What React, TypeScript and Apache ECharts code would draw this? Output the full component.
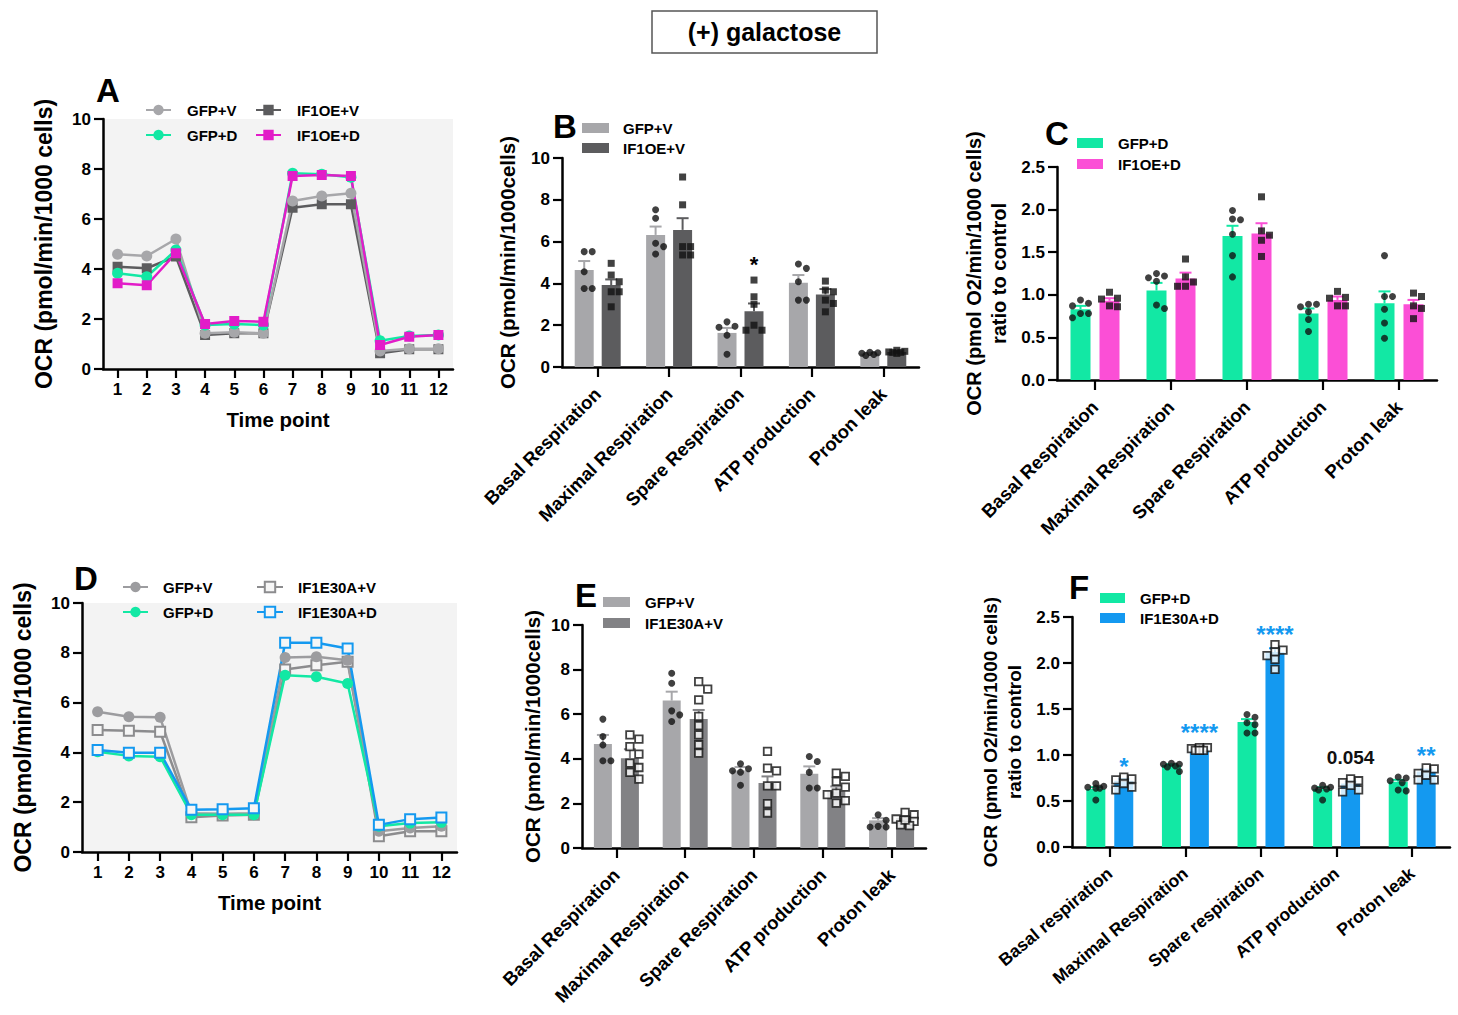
import React, { useEffect, useRef } from 'react';
import * as echarts from 'echarts';

const FONT = '"Liberation Sans", Arial, Helvetica, sans-serif';

// ---------- Data ----------
const timePoints = ['1', '2', '3', '4', '5', '6', '7', '8', '9', '10', '11', '12'];

// Panel A
const aGFPV = [4.59, 4.52, 5.2, 1.43, 1.47, 1.43, 6.72, 6.92, 7.03, 0.72, 0.81, 0.81];
const aIF1OEV = [4.09, 4.03, 4.5, 1.36, 1.43, 1.43, 6.45, 6.59, 6.59, 0.63, 0.79, 0.79];
const aGFPD = [3.83, 3.69, 4.76, 1.76, 1.8, 1.76, 7.83, 7.79, 7.67, 1.13, 1.32, 1.36];
const aIF1OED = [3.43, 3.35, 4.63, 1.8, 1.92, 1.89, 7.72, 7.76, 7.72, 0.96, 1.29, 1.36];

// Panel D
const dGFPV = [5.63, 5.43, 5.41, 1.56, 1.54, 1.56, 7.81, 7.84, 7.7, 0.83, 0.96, 1.03];
const dE30AV = [4.9, 4.87, 4.83, 1.4, 1.47, 1.5, 7.33, 7.5, 7.64, 0.63, 0.83, 0.83];
const dGFPD = [4.03, 3.86, 3.83, 1.5, 1.5, 1.5, 7.1, 7.04, 6.77, 1.03, 1.16, 1.19];
const dE30AD = [4.1, 3.99, 3.99, 1.7, 1.72, 1.76, 8.4, 8.4, 8.17, 1.09, 1.32, 1.39];

const catsBCE = ['Basal Respiration', 'Maximal Respiration', 'Spare Respiration', 'ATP production', 'Proton leak'];
const catsF = ['Basal respiration', 'Maximal Respiration', 'Spare respiration', 'ATP production', 'Proton leak'];

// Panel B
const bGFPV = [4.64, 6.32, 1.63, 4.03, 0.64];
const bGFPVsem = [0.43, 0.4, 0.24, 0.37, 0.04];
const bIF1OEV = [3.92, 6.56, 2.67, 3.47, 0.72];
const bIF1OEVsem = [0.27, 0.56, 0.37, 0.26, 0.03];
const bGFPVdots = [
  [5.52, 5.52, 3.76, 3.76, 4.56],
  [7.52, 7.12, 5.92, 5.76, 5.41],
  [2.16, 1.95, 1.9, 1.52, 0.61],
  [4.93, 4.72, 4.08, 3.2, 3.2],
  [0.7, 0.6, 0.66, 0.55, 0.68],
];
const bIF1OEVdots = [
  [4.96, 4.4, 4.08, 3.6, 3.6, 2.88],
  [9.09, 7.76, 5.76, 5.76, 5.36, 5.36],
  [4.16, 3.36, 3.0, 2.0, 1.76, 1.76],
  [4.11, 3.68, 3.6, 3.2, 3.04, 2.64],
  [0.8, 0.75, 0.7, 0.7, 0.72, 0.65],
];
const bSigLabels = ['', '', '*', '', ''];
const bSigY = [0, 0, 4.9, 0, 0];

// Panel C
const cGFPD = [0.83, 1.05, 1.69, 0.78, 0.9];
const cGFPDsem = [0.04, 0.09, 0.12, 0.06, 0.14];
const cIF1OED = [0.93, 1.19, 1.72, 0.94, 0.89];
const cIF1OEDsem = [0.03, 0.07, 0.12, 0.04, 0.05];
const cGFPDdots = [
  [0.9, 0.87, 0.94, 0.73, 0.78, 0.78],
  [1.22, 1.25, 1.16, 1.2, 0.84, 0.88],
  [1.89, 1.99, 1.88, 1.71, 1.46, 1.21],
  [0.89, 0.86, 0.89, 0.8, 0.71, 0.57],
  [1.46, 0.98, 0.98, 0.83, 0.67, 0.49],
];
const cIF1OEDdots = [
  [0.87, 1.03, 0.96, 0.86, 0.95],
  [1.42, 1.15, 1.1, 1.21, 1.1],
  [2.15, 1.75, 1.7, 1.64, 1.45],
  [1.04, 0.96, 0.87, 0.97, 0.87],
  [1.02, 0.87, 0.98, 0.84, 0.72],
];

// Panel E
const eGFPV = [4.66, 6.61, 3.48, 3.33, 1.24];
const eGFPVsem = [0.41, 0.4, 0.15, 0.33, 0.1];
const eE30AV = [4.03, 5.78, 2.91, 2.54, 1.34];
const eE30AVsem = [0.4, 0.41, 0.3, 0.22, 0.08];
const eGFPVdots = [
  [5.78, 5.0, 4.62, 3.91, 3.91],
  [7.84, 7.39, 6.15, 5.97, 5.67],
  [3.78, 3.55, 3.46, 3.4, 2.81],
  [4.1, 3.88, 3.39, 2.69, 2.69],
  [1.49, 0.94, 0.97, 1.24, 0.94],
];
const eE30AVdots = [
  [4.88, 5.07, 4.55, 4.21, 3.81, 3.61, 3.39, 3.09],
  [7.46, 7.12, 6.64, 5.9, 5.49, 5.07, 4.63, 4.25],
  [4.33, 3.46, 3.58, 2.79, 2.79, 1.99, 1.57],
  [3.21, 3.36, 2.99, 2.73, 2.39, 2.46, 2.01, 2.12],
  [1.49, 1.6, 1.3, 1.04, 1.19, 1.0, 1.25],
];

// Panel F
const fGFPD = [0.63, 0.89, 1.36, 0.63, 0.71];
const fGFPDsem = [0.02, 0.01, 0.03, 0.02, 0.02];
const fE30AD = [0.72, 1.06, 2.12, 0.69, 0.82];
const fE30ADsem = [0.02, 0.01, 0.04, 0.02, 0.02];
const fGFPDdots = [
  [0.65, 0.64, 0.66, 0.69, 0.51, 0.64],
  [0.9, 0.91, 0.88, 0.87, 0.82, 0.9],
  [1.44, 1.41, 1.35, 1.33, 1.24, 1.24],
  [0.67, 0.63, 0.64, 0.62, 0.51, 0.65],
  [0.72, 0.7, 0.76, 0.61, 0.62, 0.75],
];
const fE30ADdots = [
  [0.74, 0.76, 0.73, 0.62, 0.69, 0.65],
  [1.08, 1.08, 1.07, 1.05, 1.05, 1.05],
  [2.2, 2.14, 2.08, 2.12, 2.04, 1.93],
  [0.72, 0.74, 0.7, 0.62, 0.67, 0.6],
  [0.85, 0.86, 0.8, 0.78, 0.73, 0.73],
];
const fSigLabels = ['*', '****', '****', '0.054', '**'];
const fSigY = [0.87, 1.24, 2.31, 0.97, 1.0];

// ---------- Colors ----------
const C_LGRAY = '#a7a7aa';
const C_DGRAY = '#5c5c5e';
const C_MGRAY = '#828285';
const C_TEAL = '#12e8a4';
const C_MAGENTA = '#e21cc8';
const C_PINK = '#fb4fd6';
const C_BLUE = '#1499f0';
const C_BG = '#f3f3f3';

// ---------- Helpers ----------
const lbl = (size: number) => ({ color: '#000', fontWeight: 'bold', fontSize: size, fontFamily: FONT });
const axisLine = { show: true, onZero: false, lineStyle: { color: '#000', width: 2.5 } };
const tick = (len: number) => ({ show: true, length: len, lineStyle: { color: '#000', width: 2.2 } });

function swarm(values: number[], pxPerUnit: number, s: number): number[] {
  const placed: { x: number; y: number }[] = [];
  const order = values.map((_, i) => i).sort((a, b) => values[b] - values[a]);
  const offs = new Array(values.length).fill(0);
  const cands = [0, s, -s, s / 2, -s / 2];
  for (const i of order) {
    const y = values[i] * pxPerUnit;
    let best = 0;
    let bestD = -1;
    for (const dx of cands) {
      const minD = placed.reduce((m, p) => Math.min(m, Math.hypot(p.x - dx, p.y - y)), Infinity);
      if (minD >= s * 0.9) {
        best = dx;
        break;
      }
      if (minD > bestD) {
        bestD = minD;
        best = dx;
      }
    }
    offs[i] = best;
    placed.push({ x: best, y });
  }
  return offs;
}

function lineSeries(name: string, gi: number, data: number[], color: string, symbol: string, hollow = false) {
  return {
    type: 'line',
    name,
    xAxisIndex: gi,
    yAxisIndex: gi,
    data,
    symbol,
    symbolSize: symbol === 'rect' ? 10 : 11,
    lineStyle: { color, width: 2.5 },
    itemStyle: hollow ? { color: '#f6f6f6', borderColor: color, borderWidth: 2 } : { color },
    emphasis: { disabled: true },
  };
}

function barSeries(name: string, gi: number, data: number[], color: string, width: number, gap: string) {
  return {
    type: 'bar',
    name,
    xAxisIndex: gi,
    yAxisIndex: gi,
    data,
    barWidth: width,
    barGap: gap,
    itemStyle: { color },
    emphasis: { disabled: true },
    z: 2,
  };
}

function errSeries(gi: number, means: number[], sems: number[], off: number, color: string) {
  return {
    type: 'custom',
    xAxisIndex: gi,
    yAxisIndex: gi,
    z: 3,
    silent: true,
    data: means.map((m, i) => [i, m, sems[i]]),
    renderItem: (_params: any, api: any) => {
      const i = api.value(0);
      const m = api.value(1);
      const s = api.value(2);
      const p0 = api.coord([i, m]);
      const p1 = api.coord([i, m + s]);
      const x = p0[0] + off;
      return {
        type: 'group',
        children: [
          { type: 'line', shape: { x1: x, y1: p0[1], x2: x, y2: p1[1] }, style: { stroke: color, lineWidth: 2 } },
          { type: 'line', shape: { x1: x - 6, y1: p1[1], x2: x + 6, y2: p1[1] }, style: { stroke: color, lineWidth: 2 } },
        ],
      };
    },
  };
}

function dotSeries(gi: number, groups: number[][], off: number, symbol: string, hollow: boolean, pxPerUnit: number, s: number, size: number) {
  const data: any[] = [];
  groups.forEach((vals, ci) => {
    const jit = swarm(vals, pxPerUnit, s);
    vals.forEach((v, k) => {
      data.push({ value: [ci, v], symbolOffset: [off + jit[k], 0] });
    });
  });
  return {
    type: 'scatter',
    xAxisIndex: gi,
    yAxisIndex: gi,
    z: 4,
    silent: true,
    symbol,
    symbolSize: size,
    itemStyle: hollow ? { color: '#ffffff', borderColor: '#111', borderWidth: 1.8 } : { color: '#111' },
    data,
  };
}

function sigSeries(gi: number, labels: string[], ys: number[], off: number, colors: string[], sizes: number[]) {
  return {
    type: 'custom',
    xAxisIndex: gi,
    yAxisIndex: gi,
    z: 5,
    silent: true,
    data: ys.map((y, i) => [i, y]),
    renderItem: (params: any, api: any) => {
      const i = params.dataIndex;
      if (!labels[i]) return null;
      const p = api.coord([api.value(0), api.value(1)]);
      return {
        type: 'text',
        x: p[0] + off,
        y: p[1],
        style: {
          text: labels[i],
          fill: colors[i],
          fontSize: sizes[i],
          fontWeight: 'bold',
          fontFamily: FONT,
          align: 'center',
          verticalAlign: 'middle',
        },
      };
    },
  };
}

function lineXAxis(gi: number) {
  return {
    gridIndex: gi,
    type: 'category',
    data: timePoints,
    boundaryGap: true,
    axisLine,
    axisTick: { ...tick(9), alignWithLabel: true },
    axisLabel: { ...lbl(17), margin: 12, interval: 0 },
    splitLine: { show: false },
    name: 'Time point',
    nameLocation: 'middle',
    nameGap: 40,
    nameTextStyle: { ...lbl(20.5), lineHeight: 21 },
  };
}

function valYAxis(gi: number, max: number, interval: number, name: string, nameGap: number, nameSize: number, lineHeight: number, decimals: number) {
  return {
    gridIndex: gi,
    type: 'value',
    min: 0,
    max,
    interval,
    axisLine,
    axisTick: tick(9),
    axisLabel: { ...lbl(17), margin: 12, formatter: (v: number) => v.toFixed(decimals) },
    splitLine: { show: false },
    name,
    nameLocation: 'middle',
    nameRotate: 90,
    nameGap,
    nameTextStyle: { ...lbl(nameSize), lineHeight, align: 'center' },
  };
}

function barXAxis(gi: number, cats: string[], rotate: number, size: number) {
  return {
    gridIndex: gi,
    type: 'category',
    data: cats,
    axisLine,
    axisTick: { ...tick(10), alignWithLabel: true },
    axisLabel: { ...lbl(size), rotate, interval: 0, margin: 24 },
    splitLine: { show: false },
  };
}

const strip = (name: string) => name.split('|')[1];

function legend(names: string[], left: number, top: number, gap: number, iw: number, ih: number, pad: number, icon?: string) {
  const l: any = {
    data: names.map((n) => (icon ? { name: n, icon } : { name: n })),
    orient: 'vertical',
    left,
    top,
    padding: 0,
    itemGap: gap,
    itemWidth: iw,
    itemHeight: ih,
    selectedMode: false,
    formatter: strip,
    textStyle: { ...lbl(15), lineHeight: 16, padding: [0, 0, 0, pad] },
  };
  return l;
}

function buildOption() {
  const grids = [
    { left: 103, top: 119, width: 350, height: 250, show: true, backgroundColor: C_BG, borderWidth: 0 },
    { left: 562, top: 158, width: 357, height: 209 },
    { left: 1057, top: 167, width: 380, height: 213 },
    { left: 82, top: 603, width: 375, height: 249, show: true, backgroundColor: C_BG, borderWidth: 0 },
    { left: 582, top: 625, width: 344, height: 223 },
    { left: 1072, top: 617, width: 378, height: 230 },
  ];

  const xAxis = [
    lineXAxis(0),
    barXAxis(1, catsBCE, 45, 18.5),
    barXAxis(2, catsBCE, 45, 18.5),
    lineXAxis(3),
    barXAxis(4, catsBCE, 45, 18.5),
    barXAxis(5, catsF, 40, 17.5),
  ];
  const yAxis = [
    valYAxis(0, 10, 2, 'OCR (pmol/min/1000 cells)', 48, 23, 23, 0),
    valYAxis(1, 10, 2, 'OCR (pmol/min/1000cells)', 44, 20.5, 21, 0),
    valYAxis(2, 2.5, 0.5, 'OCR (pmol O2/min/1000 cells)\nratio to control', 46, 20, 25, 1),
    valYAxis(3, 10, 2, 'OCR (pmol/min/1000 cells)', 48, 23, 23, 0),
    valYAxis(4, 10, 2, 'OCR (pmol/min/1000cells)', 39, 20.5, 21, 0),
    valYAxis(5, 2.5, 0.5, 'OCR (pmol O2/min/1000 cells)\nratio to control', 46, 19, 24, 1),
  ];

  const series: any[] = [
    // A
    lineSeries('A|IF1OE+V', 0, aIF1OEV, C_DGRAY, 'rect'),
    lineSeries('A|GFP+V', 0, aGFPV, C_LGRAY, 'circle'),
    lineSeries('A|GFP+D', 0, aGFPD, C_TEAL, 'circle'),
    lineSeries('A|IF1OE+D', 0, aIF1OED, C_MAGENTA, 'rect'),
    // D
    lineSeries('D|IF1E30A+V', 3, dE30AV, '#8c8c8e', 'rect', true),
    lineSeries('D|GFP+V', 3, dGFPV, '#9c9c9f', 'circle'),
    lineSeries('D|GFP+D', 3, dGFPD, C_TEAL, 'circle'),
    lineSeries('D|IF1E30A+D', 3, dE30AD, C_BLUE, 'rect', true),
    // B
    barSeries('B|GFP+V', 1, bGFPV, C_LGRAY, 19, '42%'),
    barSeries('B|IF1OE+V', 1, bIF1OEV, C_DGRAY, 19, '42%'),
    errSeries(1, bGFPV, bGFPVsem, -13.5, C_LGRAY),
    errSeries(1, bIF1OEV, bIF1OEVsem, 13.5, C_DGRAY),
    dotSeries(1, bGFPVdots, -13.5, 'circle', false, 20.9, 8, 7),
    dotSeries(1, bIF1OEVdots, 13.5, 'rect', false, 20.9, 8, 7),
    sigSeries(1, bSigLabels, bSigY, 13.5, ['#000', '#000', '#000', '#000', '#000'], [22, 22, 22, 22, 22]),
    // C
    barSeries('C|GFP+D', 2, cGFPD, C_TEAL, 20, '45%'),
    barSeries('C|IF1OE+D', 2, cIF1OED, C_PINK, 20, '45%'),
    errSeries(2, cGFPD, cGFPDsem, -14.5, C_TEAL),
    errSeries(2, cIF1OED, cIF1OEDsem, 14.5, C_PINK),
    dotSeries(2, cGFPDdots, -14.5, 'circle', false, 85.3, 8, 7),
    dotSeries(2, cIF1OEDdots, 14.5, 'rect', false, 85.3, 8, 7),
    // E
    barSeries('E|GFP+V', 4, eGFPV, C_LGRAY, 18, '50%'),
    barSeries('E|IF1E30A+V', 4, eE30AV, C_MGRAY, 18, '50%'),
    errSeries(4, eGFPV, eGFPVsem, -13.5, C_LGRAY),
    errSeries(4, eE30AV, eE30AVsem, 13.5, C_MGRAY),
    dotSeries(4, eGFPVdots, -13.5, 'circle', false, 22.3, 8, 7),
    dotSeries(4, eE30AVdots, 13.5, 'rect', true, 22.3, 9, 7.5),
    // F
    barSeries('F|GFP+D', 5, fGFPD, C_TEAL, 19, '47%'),
    barSeries('F|IF1E30A+D', 5, fE30AD, C_BLUE, 19, '47%'),
    errSeries(5, fGFPD, fGFPDsem, -14, C_TEAL),
    errSeries(5, fE30AD, fE30ADsem, 14, C_BLUE),
    dotSeries(5, fGFPDdots, -14, 'circle', false, 92, 8, 7),
    dotSeries(5, fE30ADdots, 14, 'rect', true, 92, 8, 7.5),
    sigSeries(5, fSigLabels, fSigY, 14, [C_BLUE, C_BLUE, C_BLUE, '#111', C_BLUE], [24, 24, 24, 19, 24]),
  ];

  const legends = [
    legend(['A|GFP+V', 'A|GFP+D'], 145, 102, 9, 25, 13, 11),
    legend(['A|IF1OE+V', 'A|IF1OE+D'], 255, 102, 9, 25, 13, 11),
    legend(['D|GFP+V', 'D|GFP+D'], 122, 579, 9, 25, 13, 10),
    legend(['D|IF1E30A+V', 'D|IF1E30A+D'], 256, 579, 9, 26, 13, 10),
    legend(['B|GFP+V', 'B|IF1OE+V'], 582, 120, 4, 27, 10, 9, 'rect'),
    legend(['C|GFP+D', 'C|IF1OE+D'], 1077, 135, 5, 26, 10, 10, 'rect'),
    legend(['E|GFP+V', 'E|IF1E30A+V'], 603, 594, 5, 27, 10, 10, 'rect'),
    legend(['F|GFP+D', 'F|IF1E30A+D'], 1100, 590, 4, 25, 10, 10, 'rect'),
  ];

  const letter = (t: string, x: number, y: number) => ({
    type: 'text',
    x,
    y,
    style: { text: t, fill: '#000', fontSize: 33, fontWeight: 'bold', fontFamily: FONT, align: 'center', verticalAlign: 'middle' },
    z: 10,
  });

  const graphic = [
    { type: 'rect', shape: { x: 652, y: 11, width: 225, height: 42 }, style: { fill: '#fff', stroke: '#555', lineWidth: 1.5 } },
    {
      type: 'text',
      x: 764.5,
      y: 32,
      style: { text: '(+) galactose', fill: '#000', fontSize: 25, fontWeight: 'bold', fontFamily: FONT, align: 'center', verticalAlign: 'middle' },
    },
    letter('A', 108, 90),
    letter('B', 565, 126),
    letter('C', 1057, 133),
    letter('D', 86, 578),
    letter('E', 586, 595),
    letter('F', 1079, 587),
  ];

  return {
    animation: false,
    backgroundColor: '#fff',
    textStyle: { fontFamily: FONT },
    grid: grids,
    xAxis,
    yAxis,
    legend: legends,
    series,
    graphic,
  };
}

export default function App() {
  const ref = useRef<HTMLDivElement>(null);
  useEffect(() => {
    const chart = echarts.init(ref.current as HTMLDivElement, null, { renderer: 'svg' });
    chart.setOption(buildOption() as any);
    return () => {
      chart.dispose();
    };
  }, []);
  return (
    <div
      ref={ref}
      style={{ position: 'absolute', left: 0, top: 0, width: 1458, height: 1015, background: '#fff' }}
    />
  );
}
